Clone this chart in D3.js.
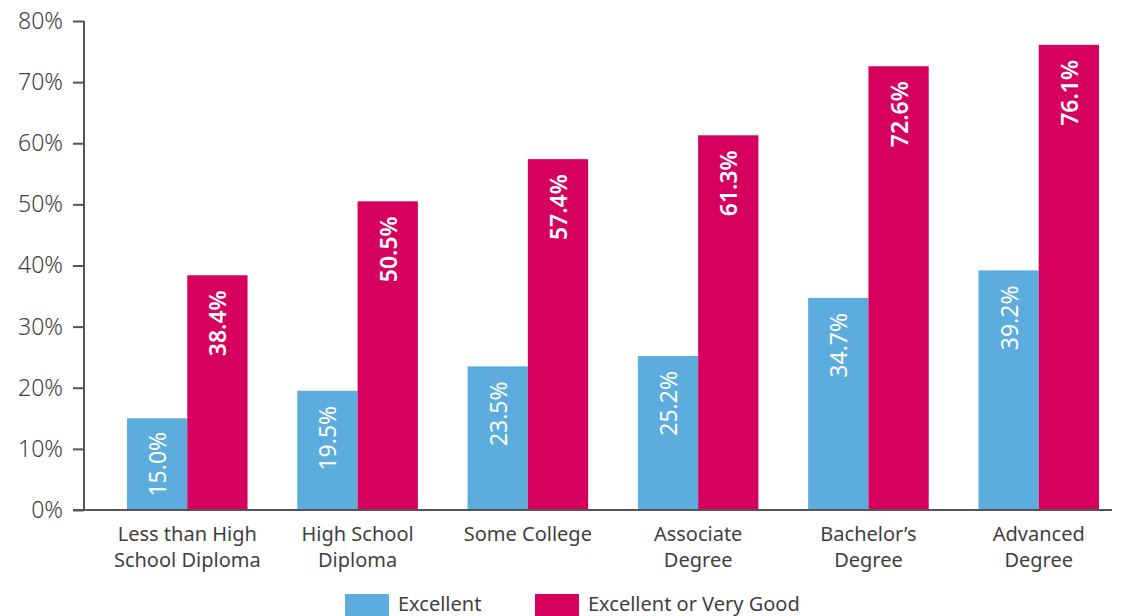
<!DOCTYPE html>
<html>
<head>
<meta charset="utf-8">
<script src="https://cdn.jsdelivr.net/npm/d3@7"></script>
<style>
  body { margin: 0; background: #fff; }
  svg { display: block; font-family: "Noto Sans", sans-serif; }
</style>
</head>
<body>
<svg id="chart" width="1128" height="616"></svg>
<script>
// Data
const categories = [
  ['Less than High', 'School Diploma'],
  ['High School', 'Diploma'],
  ['Some College'],
  ['Associate', 'Degree'],
  ['Bachelor\u2019s', 'Degree'],
  ['Advanced', 'Degree']
];
const excellent = [15.0, 19.5, 23.5, 25.2, 34.7, 39.2];
const excellentOrVeryGood = [38.4, 50.5, 57.4, 61.3, 72.6, 76.1];
const seriesNames = ['Excellent', 'Excellent or Very Good'];
const yTicks = [0, 10, 20, 30, 40, 50, 60, 70, 80];

const colors = ['#5cadde', '#d6005f'];
const textColor = '#3f3f3f';

const svg = d3.select('#chart');

const axisX = 84;
const x = d3.scaleBand()
  .domain(d3.range(categories.length))
  .range([127, 1099])
  .paddingInner(0.292)
  .paddingOuter(0);

const xSub = d3.scaleBand()
  .domain([0, 1])
  .range([0, x.bandwidth()]);

const y = d3.scaleLinear()
  .domain([0, 80])
  .range([510, 21]);

// Y axis
const yAxis = svg.append('g')
  .attr('transform', `translate(${axisX},0)`)
  .call(d3.axisLeft(y).tickValues(yTicks).tickSize(11).tickPadding(10).tickFormat(d => d + '%'));

yAxis.select('.domain').attr('stroke', '#555').attr('stroke-width', 2)
  .attr('d', `M0,${y(80)}V${y(0)}`);
yAxis.selectAll('.tick line').attr('stroke', '#555').attr('stroke-width', 2);
yAxis.selectAll('.tick text')
  .attr('fill', textColor)
  .attr('font-size', 23)
  .attr('font-weight', 300)
  .attr('font-family', '"Noto Sans", sans-serif');

// Bars
const groups = svg.append('g').selectAll('g')
  .data(categories.map((c, i) => ({ i, values: [excellent[i], excellentOrVeryGood[i]] })))
  .join('g')
  .attr('transform', d => `translate(${x(d.i)},0)`);

const bars = groups.selectAll('g.bar')
  .data(d => d.values.map((v, s) => ({ v, s })))
  .join('g')
  .attr('class', 'bar');

bars.append('rect')
  .attr('x', d => xSub(d.s))
  .attr('y', d => y(d.v))
  .attr('width', xSub.bandwidth())
  .attr('height', d => y(0) - y(d.v))
  .attr('fill', d => colors[d.s]);

bars.append('text')
  .text(d => d.v.toFixed(1) + '%')
  .attr('fill', '#fff')
  .attr('font-size', 23)
  .attr('font-weight', d => d.s === 1 ? 600 : 400)
  .attr('text-anchor', 'end')
  .attr('dominant-baseline', 'central')
  .each(function (d) {
    const len = this.getComputedTextLength();
    const h = y(0) - y(d.v);
    const pad = Math.min(15, (h - len) / 2);
    const cx = xSub(d.s) + xSub.bandwidth() / 2;
    const cy = y(d.v) + pad;
    d3.select(this).attr('transform', `translate(${cx},${cy}) rotate(-90)`);
  });

// Baseline
svg.append('line')
  .attr('x1', axisX - 11).attr('x2', 1112)
  .attr('y1', y(0)).attr('y2', y(0))
  .attr('stroke', '#555').attr('stroke-width', 2);

// Category labels
svg.append('g').selectAll('text')
  .data(categories)
  .join('text')
  .attr('text-anchor', 'middle')
  .attr('fill', textColor)
  .attr('font-size', 20)
  .attr('transform', (d, i) => `translate(${x(i) + x.bandwidth() / 2},0)`)
  .selectAll('tspan')
  .data(d => d)
  .join('tspan')
  .attr('x', 0)
  .attr('y', (d, j) => 541 + j * 26)
  .text(d => d);

// Legend
const legendX = [345, 535];
const legend = svg.append('g').selectAll('g')
  .data(seriesNames)
  .join('g')
  .attr('transform', (d, i) => `translate(${legendX[i]},594)`);

legend.append('rect')
  .attr('width', 44).attr('height', 22)
  .attr('fill', (d, i) => colors[i]);

legend.append('text')
  .attr('x', 53).attr('y', 17)
  .attr('fill', textColor)
  .attr('font-size', 20)
  .text(d => d);
</script>
</body>
</html>
